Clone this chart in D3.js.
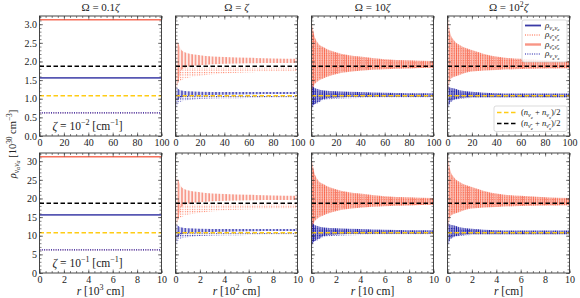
<!DOCTYPE html>
<html>
<head>
<meta charset="utf-8">
<script src="https://cdn.jsdelivr.net/npm/d3@7"></script>
<style>
  body { margin: 0; background: #fff; }
  text { font-family: 'Liberation Serif', 'DejaVu Serif', serif; fill: #222; }
</style>
</head>
<body>
<svg id="chart" width="580" height="298"></svg>
<script>
// ---------- data (top row units: 10^30 cm^-3, r in panel units 0..100) ----------
const omegaTitles = ['0.1', '1', '10', '100'];
const xTickTop = [0, 20, 40, 60, 80, 100];
const xTickBottom = [0, 2, 4, 6, 8, 10];
const yTickTop = [0, 0.5, 1.0, 1.5, 2.0, 2.5, 3.0];
const yTickBottom = [0, 5, 10, 15, 20, 25, 30];
const xUnitSup = ['3', '2', '', ''];           // r [10^3 cm], [10^2 cm], [10 cm], [cm]
const xUnitBase = ['10', '10', '10', ''];
const zetaExp = ['−2', '−1'];
const rowFactor = [1, 10];                     // zeta = 1e-2 vs 1e-1

// averages
const meanNu = 1.08;      // (n_ve + n_vx)/2
const meanNuBar = 1.87;   // (n_vebar + n_vxbar)/2

// Omega = 0.1 zeta : flat values
const flatNeNe = 1.56, flatXbXb = 0.62, flatEbEb = 3.12, flatXX = 0.62;

// envelopes of the oscillating curves, sampled at fraction of r range
const rFrac = [0, 0.01, 0.02, 0.05, 0.1, 0.2, 0.4, 0.6, 0.8, 1.0];

// Omega = zeta
const ebHi1 = [3.05, 2.55, 2.5, 2.3, 2.22, 2.17, 2.12, 2.1, 2.08, 2.07];
const ebLo1 = [1.3, 1.3, 1.4, 1.78, 1.86, 1.9, 1.94, 1.95, 1.96, 1.96];
const xbHi1 = [1.85, 1.84, 1.83, 1.83, 1.83, 1.83, 1.83, 1.83, 1.83, 1.83];
const xbLo1 = [1.3, 1.35, 1.42, 1.5, 1.56, 1.62, 1.68, 1.71, 1.73, 1.74];
const eHi1 = [1.35, 1.3, 1.27, 1.22, 1.2, 1.19, 1.18, 1.18, 1.18, 1.18];
const eLo1 = [0.85, 0.9, 0.97, 1.04, 1.07, 1.09, 1.11, 1.12, 1.13, 1.13];
const xHi1 = [1.2, 1.15, 1.12, 1.08, 1.07, 1.07, 1.07, 1.07, 1.07, 1.07];
const xLo1 = [0.72, 0.78, 0.86, 0.93, 0.96, 0.99, 1.01, 1.02, 1.03, 1.03];

// Omega = 10 zeta
const ebHi10 = [3.1, 2.9, 2.74, 2.51, 2.38, 2.25, 2.13, 2.06, 2.03, 2.01];
const ebLo10 = [1.0, 1.2, 1.35, 1.46, 1.55, 1.66, 1.75, 1.79, 1.81, 1.83];
const xbHi10 = [3.0, 2.8, 2.68, 2.46, 2.34, 2.22, 2.1, 2.04, 2.01, 1.99];
const xbLo10 = [1.05, 1.25, 1.4, 1.5, 1.58, 1.69, 1.77, 1.8, 1.82, 1.84];
const eHi10 = [1.45, 1.35, 1.3, 1.26, 1.22, 1.2, 1.18, 1.16, 1.15, 1.15];
const eLo10 = [0.72, 0.8, 0.85, 0.9, 0.99, 1.03, 1.05, 1.05, 1.05, 1.05];
const xHi10 = [1.35, 1.28, 1.24, 1.2, 1.17, 1.15, 1.13, 1.12, 1.11, 1.11];
const xLo10 = [0.7, 0.78, 0.83, 0.88, 0.96, 1.0, 1.02, 1.03, 1.03, 1.03];

// Omega = 10^2 zeta
const ebHi100 = [3.3, 3.0, 2.8, 2.58, 2.44, 2.31, 2.13, 2.07, 2.03, 2.01];
const ebLo100 = [1.0, 1.3, 1.5, 1.58, 1.64, 1.73, 1.77, 1.8, 1.81, 1.82];
const xbHi100 = [3.2, 2.9, 2.74, 2.53, 2.4, 2.28, 2.11, 2.05, 2.02, 2.0];
const xbLo100 = [1.05, 1.35, 1.53, 1.61, 1.67, 1.75, 1.78, 1.81, 1.82, 1.83];
const eHi100 = [1.4, 1.33, 1.3, 1.28, 1.23, 1.19, 1.15, 1.14, 1.14, 1.14];
const eLo100 = [0.7, 0.8, 0.9, 0.97, 1.01, 1.04, 1.04, 1.04, 1.04, 1.04];
const xHi100 = [1.33, 1.28, 1.25, 1.22, 1.18, 1.15, 1.12, 1.11, 1.11, 1.11];
const xLo100 = [0.68, 0.78, 0.88, 0.95, 0.99, 1.02, 1.03, 1.03, 1.03, 1.03];

// ---------- layout ----------
const panelLeft = [39.5, 175.5, 311.5, 447.5];
const panelW = 122, panelH = 120;
const rowTop = [16, 153];
const xMax = [100, 10];
const yMax = [3.22, 32.2];

const cBlue = '#3a3aa6', cNavy = '#1515a8', cSalmon = '#f5715c', cRed = '#ff5a36';
const cGold = '#ffcc14';

const svg = d3.select('#chart');
const defs = svg.append('defs');

function pattern(id, w, h, bg, bgOp, fn) {
  const p = defs.append('pattern').attr('id', id)
    .attr('patternUnits', 'userSpaceOnUse').attr('width', w).attr('height', h);
  p.append('rect').attr('width', w).attr('height', h).attr('fill', bg).attr('fill-opacity', bgOp);
  fn(p);
}
pattern('pSalmonZig', 3.4, 10, cSalmon, 0.12, p => p.append('rect').attr('x', 1.2).attr('width', 1.1).attr('height', 10).attr('fill', cSalmon));
pattern('pRedDots', 2.4, 2.4, '#fff', 0, p => p.append('rect').attr('width', 1).attr('height', 1.1).attr('fill', cRed).attr('fill-opacity', 0.8));
pattern('pBlueZig', 3.4, 10, cBlue, 0.2, p => p.append('rect').attr('x', 1.2).attr('width', 1.1).attr('height', 10).attr('fill', cNavy));
pattern('pBlueDots', 2.4, 2.4, '#fff', 0, p => p.append('rect').attr('width', 1.1).attr('height', 1.1).attr('fill', cNavy));
pattern('pSalmonDense', 2.2, 10, cSalmon, 0.35, p => p.append('rect').attr('x', 0.6).attr('width', 0.8).attr('height', 10).attr('fill', cSalmon));
pattern('pBlueDense', 2.2, 10, cBlue, 0.35, p => p.append('rect').attr('x', 0.6).attr('width', 0.8).attr('height', 10).attr('fill', cNavy));

// text with sub/superscripts: parts = [text, level, italic]
function rich(sel, parts, size) {
  const off = { '0': 0, '1': 0.26, '2': 0.42, '-1': -0.4 };
  const scl = { '0': 1, '1': 0.72, '2': 0.55, '-1': 0.7 };
  let prev = 0;
  parts.forEach(([t, lvl = 0, it = false]) => {
    sel.append('tspan').text(t)
      .attr('dy', ((off[lvl] - off[prev]) * size).toFixed(2))
      .attr('font-size', size * scl[lvl])
      .attr('font-style', it ? 'italic' : 'normal');
    prev = lvl;
  });
  return sel;
}

const bandSets = [
  null,
  { eb: [ebHi1, ebLo1], xb: [xbHi1, xbLo1], e: [eHi1, eLo1], x: [xHi1, xLo1], dense: false },
  { eb: [ebHi10, ebLo10], xb: [xbHi10, xbLo10], e: [eHi10, eLo10], x: [xHi10, xLo10], dense: true },
  { eb: [ebHi100, ebLo100], xb: [xbHi100, xbLo100], e: [eHi100, eLo100], x: [xHi100, xLo100], dense: true }
];

[0, 1].forEach(ri => {
  const f = rowFactor[ri];
  const y0 = rowTop[ri];
  panelLeft.forEach((x0, pi) => {
    const x = d3.scaleLinear().domain([0, xMax[ri]]).range([x0, x0 + panelW]);
    const y = d3.scaleLinear().domain([0, yMax[ri]]).range([y0 + panelH, y0]);
    const g = svg.append('g');
    const clipId = `clip${ri}${pi}`;
    defs.append('clipPath').attr('id', clipId).append('rect')
      .attr('x', x0).attr('y', y0).attr('width', panelW).attr('height', panelH);
    const plot = g.append('g').attr('clip-path', `url(#${clipId})`);

    const hline = (v) => d3.line().x(d => x(d)).y(() => y(v * f))(x.domain());

    if (pi === 0) {
      plot.append('path').attr('d', hline(flatEbEb)).attr('stroke', cSalmon).attr('stroke-width', 1.6).attr('fill', 'none');
      plot.append('path').attr('d', hline(flatNeNe)).attr('stroke', cBlue).attr('stroke-opacity', 0.85).attr('stroke-width', 1.6).attr('fill', 'none');
      plot.append('path').attr('d', hline(flatXbXb)).attr('stroke', cRed).attr('stroke-width', 0.6).attr('stroke-dasharray', '1,1.3').attr('fill', 'none');
      plot.append('path').attr('d', hline(flatXX)).attr('stroke', cNavy).attr('stroke-width', 1.1).attr('stroke-dasharray', '1,1.3').attr('fill', 'none');
    } else {
      const b = bandSets[pi];
      const area = d3.area().curve(d3.curveMonotoneX)
        .x((d, i) => x(rFrac[i] * xMax[ri]))
        .y0(d => y(d[1] * f)).y1(d => y(d[0] * f));
      const band = (pair, fill) => plot.append('path')
        .datum(pair[0].map((v, i) => [v, pair[1][i]]))
        .attr('d', area).attr('fill', `url(#${fill})`);
      band(b.eb, b.dense ? 'pSalmonDense' : 'pSalmonZig');
      band(b.xb, 'pRedDots');
      band(b.e, b.dense ? 'pBlueDense' : 'pBlueZig');
      band(b.x, 'pBlueDots');
    }
    plot.append('path').attr('d', hline(meanNuBar)).attr('stroke', '#000').attr('stroke-width', 1.4)
      .attr('stroke-dasharray', '4.5,2.5').attr('fill', 'none');
    plot.append('path').attr('d', hline(meanNu)).attr('stroke', cGold).attr('stroke-width', 1.3)
      .attr('stroke-dasharray', '4.5,2.5').attr('fill', 'none');

    // axes, ticks inward on all sides
    const xt = ri === 0 ? xTickTop : xTickBottom;
    const yt = ri === 0 ? yTickTop : yTickBottom;
    const xMinor = d3.range(0, xMax[ri] + 1e-9, xMax[ri] / 20);
    const yMinor = d3.range(0, yMax[ri], ri === 0 ? 0.1 : 1);
    const yFmt = ri === 0 ? d3.format('.1f') : d3.format('d');

    const axes = g.append('g').attr('font-size', 6.5);
    const mk = (sel, ax) => { sel.call(ax); sel.select('.domain').remove(); sel.attr('font-family', null); return sel; };
    mk(axes.append('g').attr('transform', `translate(0,${y0 + panelH})`),
      d3.axisBottom(x).tickValues(xt).tickSize(-3.5).tickPadding(2.5).tickFormat(d3.format('d')));
    mk(axes.append('g').attr('transform', `translate(0,${y0 + panelH})`),
      d3.axisBottom(x).tickValues(xMinor).tickSize(-2).tickFormat(''));
    mk(axes.append('g').attr('transform', `translate(0,${y0})`),
      d3.axisTop(x).tickValues(xt).tickSize(-3.5).tickFormat(''));
    mk(axes.append('g').attr('transform', `translate(0,${y0})`),
      d3.axisTop(x).tickValues(xMinor).tickSize(-2).tickFormat(''));
    mk(axes.append('g').attr('transform', `translate(${x0},0)`),
      d3.axisLeft(y).tickValues(yt).tickSize(-3.5).tickPadding(2.5).tickFormat(pi === 0 ? yFmt : ''));
    mk(axes.append('g').attr('transform', `translate(${x0},0)`),
      d3.axisLeft(y).tickValues(yMinor).tickSize(-2).tickFormat(''));
    mk(axes.append('g').attr('transform', `translate(${x0 + panelW},0)`),
      d3.axisRight(y).tickValues(yt).tickSize(-3.5).tickFormat(''));
    mk(axes.append('g').attr('transform', `translate(${x0 + panelW},0)`),
      d3.axisRight(y).tickValues(yMinor).tickSize(-2).tickFormat(''));
    axes.selectAll('line').attr('stroke', '#333').attr('stroke-width', 0.6);

    g.append('rect').attr('x', x0).attr('y', y0).attr('width', panelW).attr('height', panelH)
      .attr('fill', 'none').attr('stroke', '#333').attr('stroke-width', 0.9);

    const cx = x0 + panelW / 2;
    if (ri === 0) {
      const t = g.append('text').attr('x', cx).attr('y', 11).attr('text-anchor', 'middle');
      const w = omegaTitles[pi];
      if (w === '1') rich(t, [['Ω = '], ['ζ', 0, true]], 11);
      else if (w === '100') rich(t, [['Ω = 10'], ['2', -1], ['ζ', 0, true]], 11);
      else rich(t, [['Ω = ' + w], ['ζ', 0, true]], 11);
    } else {
      const t = g.append('text').attr('x', cx).attr('y', 295).attr('text-anchor', 'middle');
      const parts = [['r', 0, true], [' [' + xUnitBase[pi]]];
      if (xUnitSup[pi]) parts.push([xUnitSup[pi], -1]);
      parts.push([(xUnitBase[pi] ? ' ' : '') + 'cm]']);
      rich(t, parts, 11.5);
    }
    if (pi === 0) {
      const t = g.append('text').attr('x', x0 + 13).attr('y', y0 + panelH - 6);
      rich(t, [['ζ', 0, true], [' = 10'], [zetaExp[ri], -1], [' [cm'], ['−1', -1], [']']], 11.5);
    }
  });
});

// y label
rich(svg.append('text').attr('text-anchor', 'middle')
  .attr('transform', 'translate(16,144) rotate(-90)'),
  [['ρ', 0, true], ['ν', 1, true], ['α', 2, true], ['ν', 1, true], ['α', 2, true], [' [10', 0], ['30', -1], [' cm'], ['−3', -1], [']']], 10.5);

// legends in the last top panel
const legA = svg.append('g');
legA.append('rect').attr('x', 522).attr('y', 20).attr('width', 45).attr('height', 42).attr('rx', 2)
  .attr('fill', '#fff').attr('fill-opacity', 0.85).attr('stroke', '#ccc').attr('stroke-width', 0.7);
const legItems = [
  { color: cBlue, w: 1.8, dash: null, lab: [['ρ', 0, true], ['ν', 1, true], ['e', 2, true], ['ν', 1, true], ['e', 2, true]] },
  { color: cRed, w: 1, dash: '1,1.3', lab: [['ρ', 0, true], ['ν̄', 1, true], ['x', 2, true], ['ν̄', 1, true], ['x', 2, true]] },
  { color: cSalmon, w: 2.4, dash: null, op: 0.75, lab: [['ρ', 0, true], ['ν̄', 1, true], ['e', 2, true], ['ν̄', 1, true], ['e', 2, true]] },
  { color: cNavy, w: 1, dash: '1,1.3', lab: [['ρ', 0, true], ['ν', 1, true], ['x', 2, true], ['ν', 1, true], ['x', 2, true]] }
];
legItems.forEach((d, i) => {
  const yy = 25.5 + i * 9.5;
  legA.append('line').attr('x1', 525).attr('x2', 541).attr('y1', yy).attr('y2', yy)
    .attr('stroke', d.color).attr('stroke-width', d.w).attr('stroke-opacity', d.op || 1)
    .attr('stroke-dasharray', d.dash);
  rich(legA.append('text').attr('x', 545).attr('y', yy + 2), d.lab, 9);
});

const legB = svg.append('g');
legB.append('rect').attr('x', 494).attr('y', 106).attr('width', 73).attr('height', 25.5).attr('rx', 2)
  .attr('fill', '#fff').attr('fill-opacity', 0.85).attr('stroke', '#ccc').attr('stroke-width', 0.7);
const legMeans = [
  { color: cGold, lab: [['('], ['n', 0, true], ['ν', 1, true], ['e', 2, true], [' + ', 0], ['n', 0, true], ['ν', 1, true], ['x', 2, true], [')/2', 0]] },
  { color: '#000', lab: [['('], ['n', 0, true], ['ν̄', 1, true], ['e', 2, true], [' + ', 0], ['n', 0, true], ['ν̄', 1, true], ['x', 2, true], [')/2', 0]] }
];
legMeans.forEach((d, i) => {
  const yy = 112.5 + i * 11;
  legB.append('line').attr('x1', 497).attr('x2', 517).attr('y1', yy).attr('y2', yy)
    .attr('stroke', d.color).attr('stroke-width', 1.4).attr('stroke-dasharray', '4.5,2.5');
  rich(legB.append('text').attr('x', 521).attr('y', yy + 2.5), d.lab, 8.5);
});
</script>
</body>
</html>
